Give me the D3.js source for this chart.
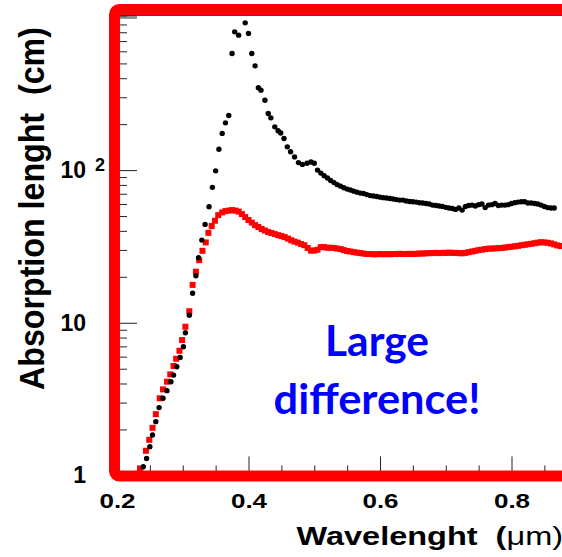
<!DOCTYPE html>
<html>
<head>
<meta charset="utf-8">
<script src="https://cdn.jsdelivr.net/npm/d3@7"></script>
<style>
  body { margin: 0; background: #fff; }
  svg { display: block; }
</style>
</head>
<body>
<div id="main-svg"></div>
<script>
// wavelength (um) , absorption length (cm)
var blackPoints = [
  [0.240,1.14],[0.245,1.29],[0.250,1.54],[0.254,1.84],[0.259,2.25],[0.264,2.78],
  [0.270,3.20],[0.276,3.59],[0.282,4.11],[0.286,4.54],[0.291,5.15],[0.296,5.93],
  [0.301,6.96],[0.304,8.60],[0.310,11.2],[0.315,15.6],[0.320,20.3],[0.324,26.7],
  [0.329,34.8],[0.334,44.1],[0.340,57.5],[0.345,77.1],[0.350,98.9],[0.355,137],
  [0.360,174],[0.365,204],[0.370,228],[0.375,581],[0.379,805],[0.385,766],
  [0.395,922],[0.400,786],[0.405,581],[0.410,482],[0.415,346],[0.419,334],
  [0.425,287],[0.430,235],[0.434,220],[0.440,192],[0.445,181],[0.449,175],
  [0.454,161],[0.459,142],[0.464,132],[0.470,122],[0.476,112],[0.482,109],
  [0.489,111],[0.495,113],[0.500,111],[0.505,100],[0.510,95.6],[0.515,92],
  [0.520,88.7],[0.525,85.4],[0.530,82.8],[0.535,80.3],[0.540,78.5],[0.545,76.7],
  [0.550,75.1],[0.555,74],[0.560,72.8],[0.565,71.7],[0.570,70.7],[0.575,70.2],
  [0.580,69.1],[0.585,68.1],[0.590,67.6],[0.595,67.1],[0.600,66.5],[0.605,66],
  [0.610,65.6],[0.615,65.1],[0.620,64.6],[0.625,64.1],[0.630,63.6],[0.635,63.6],
  [0.640,62.8],[0.645,62.3],[0.650,62],[0.655,61.7],[0.660,61.1],[0.665,60.9],
  [0.670,60.4],[0.675,60],[0.680,59],[0.685,58.6],[0.690,58.2],[0.695,57.7],
  [0.700,57],[0.705,56.5],[0.710,56.1],[0.715,55.3],[0.720,56.5],[0.725,54.7],
  [0.730,57.7],[0.735,58.6],[0.740,59],[0.745,58.2],[0.750,59.4],[0.755,60],
  [0.760,56.8],[0.765,59],[0.770,59.4],[0.775,60.4],[0.780,58.6],[0.785,59],
  [0.790,59],[0.795,59.4],[0.800,60.4],[0.805,61.2],[0.810,61.7],[0.815,62.1],
  [0.820,62.1],[0.825,60.9],[0.830,60.9],[0.835,60.4],[0.840,60],[0.845,59],
  [0.850,57.7],[0.855,56.8],[0.860,56.5],[0.865,56.5]
];

var redPoints = [
  [0.235,1.11],[0.244,1.45],[0.249,1.71],[0.254,2.05],[0.259,2.52],[0.265,3.20],
  [0.270,3.66],[0.276,4.11],[0.281,4.59],[0.286,5.21],[0.290,5.81],[0.295,6.55],
  [0.299,7.70],[0.304,9.42],[0.310,11.9],[0.315,17.7],[0.320,21.6],[0.325,25.7],
  [0.330,29.6],[0.335,33.6],[0.339,38.8],[0.344,43],[0.349,46.6],[0.354,50.7],
  [0.360,52.8],[0.365,53.9],[0.370,54.3],[0.375,54.7],[0.380,54.3],[0.385,53.5],
  [0.390,51.5],[0.395,49.2],[0.400,47.1],[0.405,45.3],[0.410,43.6],[0.415,42.4],
  [0.420,41.1],[0.425,40.2],[0.430,39.3],[0.435,38.7],[0.440,38.1],[0.445,37.5],
  [0.450,37],[0.455,36.4],[0.460,35.6],[0.465,34.7],[0.470,34],[0.475,33.5],
  [0.480,32.8],[0.485,32.2],[0.490,30.9],[0.495,29.7],[0.500,29.7],[0.505,30.1],
  [0.510,31.3],[0.515,31.3],[0.520,31],[0.525,31],[0.530,30.9],[0.535,30.6],
  [0.540,30.4],[0.545,29.9],[0.550,29.5],[0.555,29.3],[0.560,29.0],[0.565,28.8],
  [0.570,28.6],[0.575,28.4],[0.580,28.2],[0.585,28.2],[0.590,28.1],[0.595,28.1],
  [0.600,28.2],[0.605,28.1],[0.610,28.2],[0.615,28.1],[0.620,28.2],[0.625,28.2],
  [0.630,28.3],[0.635,28.2],[0.640,28.2],[0.645,28.3],[0.650,28.2],[0.655,28.3],
  [0.660,28.4],[0.665,28.4],[0.670,28.5],[0.675,28.6],[0.680,28.6],[0.685,28.7],
  [0.690,28.6],[0.695,28.7],[0.700,28.7],[0.705,28.8],[0.710,28.7],[0.715,28.7],
  [0.720,28.6],[0.725,28.5],[0.730,28.7],[0.735,29.0],[0.740,29.3],[0.745,29.6],
  [0.750,29.9],[0.755,30.1],[0.760,30.4],[0.765,30.6],[0.770,30.6],[0.775,30.7],
  [0.780,30.8],[0.785,30.9],[0.790,31.1],[0.795,31.3],[0.800,31.5],[0.805,31.7],
  [0.810,31.9],[0.815,32.2],[0.820,32.4],[0.825,32.7],[0.830,32.9],[0.835,33.2],
  [0.840,33.5],[0.845,33.7],[0.850,33.6],[0.855,33.4],[0.860,33.1],[0.865,32.6],
  [0.870,32.1],[0.875,31.8]
];

var xMajorTicks = [0.2, 0.4, 0.6, 0.8, 1.0];
var xMinorTicks = [0.25, 0.3, 0.35, 0.45, 0.5, 0.55, 0.65, 0.7, 0.75, 0.85, 0.9, 0.95];
var yMajorTicks = [1, 10, 100, 1000];
var yMinorTicks = [2,3,4,5,6,7,8,9, 20,30,40,50,60,70,80,90, 200,300,400,500,600,700,800,900];
var yTickLabels = { 1: "1", 10: "10", 100: "10", 1000: "" };

var xTitle = "Wavelenght\u00a0\u00a0(";
var yTitle = "Absorption lenght\u00a0\u00a0(cm)";
var noteLines = ["Large", "difference!"];

var width = 562, height = 557;
var font = "'Liberation Sans', Arial, sans-serif";

var x = d3.scaleLinear().domain([0.2, 1.0]).range([117, 643]);
var y = d3.scaleLog().domain([1, 1030]).range([475.4, 15.5]);

var svg = d3.select("#main-svg").append("svg")
    .attr("width", width)
    .attr("height", height);

// frame of the original plot (top line shows grey under the red box)
svg.append("rect")
    .attr("x", x(0.2)).attr("y", y(1030))
    .attr("width", x(1.0) - x(0.2)).attr("height", y(1) - y(1030))
    .attr("fill", "none").attr("stroke", "#444").attr("stroke-width", 1);

// red squares first, black dots on top
svg.append("g").selectAll("rect")
    .data(redPoints)
    .enter().append("rect")
    .attr("x", function(d) { return x(d[0]) - 3; })
    .attr("y", function(d) { return y(d[1]) - 3; })
    .attr("width", 6).attr("height", 6)
    .attr("fill", "#ff0000");

svg.append("g").selectAll("circle")
    .data(blackPoints)
    .enter().append("circle")
    .attr("cx", function(d) { return x(d[0]); })
    .attr("cy", function(d) { return y(d[1]); })
    .attr("r", 2.7)
    .attr("fill", "#000");

// axes: ticks point inward like ROOT
var xAxisMajor = svg.append("g")
    .attr("transform", "translate(0," + y(1) + ")")
    .call(d3.axisBottom(x).tickValues(xMajorTicks).tickSize(-19).tickPadding(0)
      .tickFormat(function(d) { return d < 1 ? d3.format(".1f")(d) : ""; }));
svg.append("g")
    .attr("transform", "translate(0," + y(1) + ")")
    .call(d3.axisBottom(x).tickValues(xMinorTicks).tickSize(-10).tickFormat(""));

xAxisMajor.selectAll("text")
    .attr("y", 41.5).attr("dy", 0)
    .attr("transform", "scale(1,0.78)")
    .style("font-family", font).style("font-size", "26px").style("font-weight", "bold")
    .attr("fill", "#000");

var yAxisMajor = svg.append("g")
    .attr("transform", "translate(" + x(0.2) + ",0)")
    .call(d3.axisLeft(y).tickValues(yMajorTicks).tickSize(-20).tickPadding(31)
      .tickFormat(function(d) { return yTickLabels[d]; }));
svg.append("g")
    .attr("transform", "translate(" + x(0.2) + ",0)")
    .call(d3.axisLeft(y).tickValues(yMinorTicks).tickSize(-10).tickFormat(""));

yAxisMajor.selectAll("text")
    .attr("dy", "0.33em")
    .style("font-family", font).style("font-size", "23px").style("font-weight", "bold")
    .attr("fill", "#000");

// exponent on the 10^2 label
yAxisMajor.selectAll(".tick")
    .filter(function(d) { return d === 100; })
    .append("text")
    .attr("x", -22).attr("y", 0)
    .attr("text-anchor", "start")
    .style("font-family", font).style("font-size", "18px").style("font-weight", "bold")
    .attr("fill", "#000")
    .text("2");

svg.selectAll(".domain").attr("stroke", "#222");
svg.selectAll(".tick line").attr("stroke", "#222");

// axis titles
var xt = svg.append("text")
    .attr("transform", "translate(296.5,545) scale(1,0.78)")
    .style("font-family", font).style("font-size", "32.5px").style("font-weight", "bold")
    .attr("fill", "#000");
xt.append("tspan").text(xTitle);
xt.append("tspan").style("font-weight", "normal").text("\u03bcm)");

// squeezed along its length to fit the frame height
svg.append("text")
    .attr("transform", "translate(43.5,390) rotate(-90) scale(0.92,1)")
    .style("font-family", font).style("font-size", "35px").style("font-weight", "bold")
    .attr("fill", "#000")
    .text(yTitle);

// red highlight box drawn over the plot frame
svg.append("rect")
    .attr("x", 114.5).attr("y", 9.5)
    .attr("width", 560).attr("height", 466.5)
    .attr("rx", 5)
    .attr("fill", "none")
    .attr("stroke", "#ff0000")
    .attr("stroke-width", 11);

// blue note
var noteWidths = [104, 207];
var noteBase = [356, 414];
noteLines.forEach(function(t, i) {
  svg.append("text")
    .attr("x", 377).attr("y", noteBase[i])
    .attr("text-anchor", "middle")
    .attr("textLength", noteWidths[i]).attr("lengthAdjust", "spacingAndGlyphs")
    .style("font-family", "Lato, 'Open Sans', sans-serif")
    .style("font-size", "42px").style("font-weight", "bold")
    .attr("fill", "#0000ff")
    .text(t);
});
</script>
</body>
</html>
